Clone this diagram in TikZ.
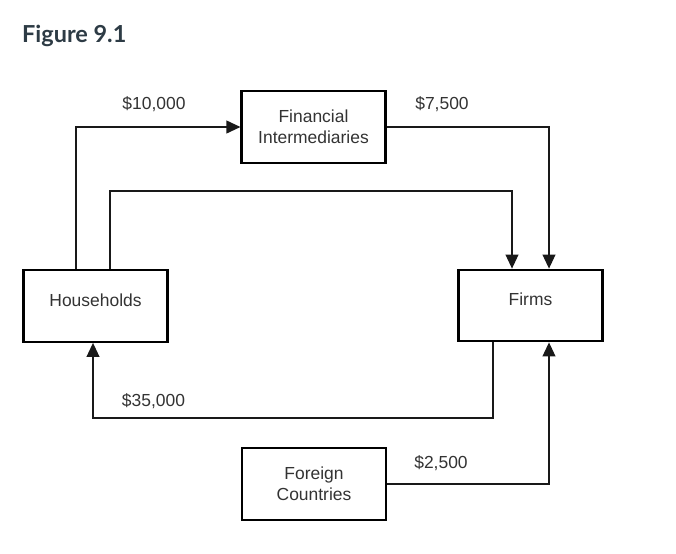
\documentclass[tikz,border=0pt]{standalone}
\usepackage{fontspec}
\setmainfont{Liberation Sans}
\newfontfamily\titlefont{Lato}
\usetikzlibrary{arrows.meta}
\definecolor{titleslate}{HTML}{2D3B45}
\definecolor{labelgray}{HTML}{333333}

\begin{document}
\begin{tikzpicture}[x=0.03cm, y=-0.03cm,
  every node/.style={font=\fontsize{14.9}{17.9}\selectfont, text=labelgray},
  box/.style={draw=black, line width=1.8pt, minimum width=4.32cm, minimum height=2.15cm, inner sep=0pt, align=center},
  flow/.style={draw=black!90, line width=1.2pt, -{Triangle[length=12pt, width=11pt]}}]
\useasboundingbox (0,0) rectangle (676,553);
\node[anchor=base west, inner sep=0pt, font=\titlefont\bfseries\fontsize{20}{24}\selectfont, text=titleslate] (ttl) at (22,42.7) {Figure 9.1};
\node[box] (fi) at (313.5,127) {Financial\\Intermediaries};
\node[box, text depth=0.36cm] (hh) at (95.5,306) {Households};
\node[box, text depth=0.36cm] (firms) at (530.5,305.5) {Firms};
\node[box] (fc) at (314,484) {Foreign\\Countries};
\coordinate (saveX) at (76,0);
\coordinate (loopA) at (110,191);
\coordinate (loopB) at (512,191);
\coordinate (inX) at (549,0);
\coordinate (retA) at (493,418);
\coordinate (retB) at (93,418);
\draw[flow] (hh.north -| saveX) |- (fi.west);
\draw[flow] (hh.north -| loopA) -- (loopA) -- (loopB) -- (firms.north -| loopB);
\draw[flow] (fi.east) -| (firms.north -| inX);
\draw[flow] (firms.south -| retA) -- (retA) -- (retB) -- (hh.south -| retB);
\draw[flow] (fc.east) -| (firms.south -| inX);
\node (l10k) at (154,104) {\$10,000};
\node (l7k) at (442,104) {\$7,500};
\node (l35k) at (153.5,401.5) {\$35,000};
\node (l2k) at (441,463) {\$2,500};
\end{tikzpicture}
\end{document}
